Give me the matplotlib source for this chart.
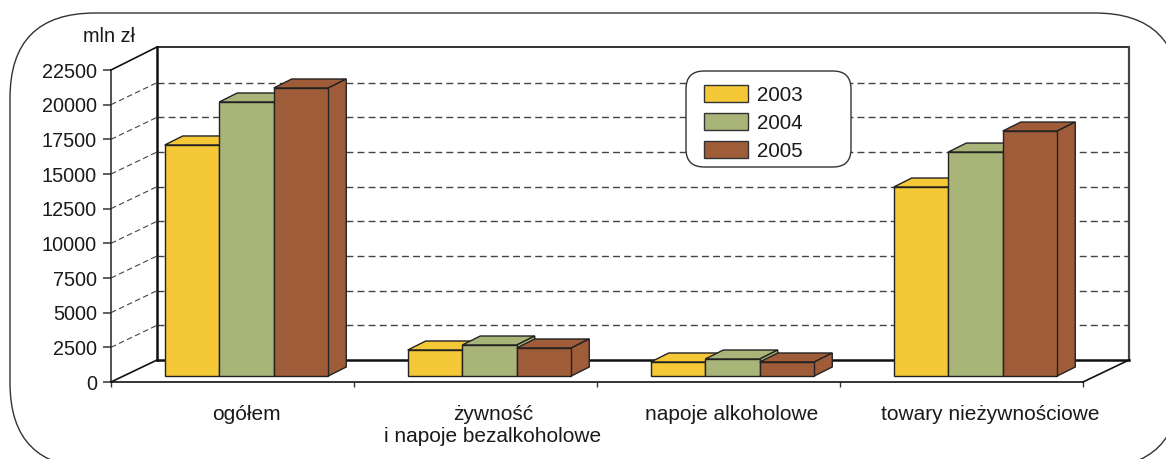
import numpy as np
import matplotlib
matplotlib.use("Agg")
from matplotlib import pyplot as plt
from matplotlib.patches import FancyBboxPatch, Polygon, Patch

plt.rcParams['font.family'] = ['Liberation Sans', 'DejaVu Sans']

# Data
categories = ["ogółem", "żywność\ni napoje bezalkoholowe", "napoje alkoholowe", "towary nieżywnościowe"]
years = ["2003", "2004", "2005"]
values_2003 = [16660, 1875, 1010, 13630]
values_2004 = [19760, 2235, 1225, 16150]
values_2005 = [20770, 2020, 1010, 17665]
y_ticks = [0, 2500, 5000, 7500, 10000, 12500, 15000, 17500, 20000, 22500]
colors = ["#F4C837", "#A9B479", "#9F5C38"]

W, H = 1166, 459
fig = plt.figure(figsize=(W / 100, H / 100), dpi=100)

# Overlay in pixels, only for the rounded frame
bg = fig.add_axes([0, 0, 1, 1])
bg.set_xlim(0, W)
bg.set_ylim(H, 0)
bg.axis("off")
bg.add_patch(FancyBboxPatch((10, 13), 1170, 455, boxstyle="round,pad=0,rounding_size=85",
                            fc="white", ec="#333333", lw=1.0))

# Main axes is the front plane of the box
ax = fig.add_axes([111 / W, (H - 382) / H, 972 / W, 312 / H])
ax.set_xlim(0, 4)
ax.set_ylim(0, 22500)
ax.patch.set_alpha(0)
for s in ax.spines.values():
    s.set_visible(False)

# pixel offsets turned into data units
ux = 4 / 972
uy = 22500 / 312
wall_x, wall_y = 46 * ux, 22 * uy
bar_x, bar_y = 14 * ux, 6 * uy
depth_x, depth_y = 18 * ux, 9 * uy
bar_w = 54.5 * ux

# Back wall, floor and side lines
ax.plot([wall_x, wall_x], [wall_y, 22500 + wall_y + uy], color="#111111", lw=1.8, clip_on=False)
ax.plot([wall_x, 4 + wall_x], [22500 + wall_y + uy] * 2, color="#222222", lw=1.3, clip_on=False)
ax.plot([4 + wall_x] * 2, [wall_y, 22500 + wall_y + uy], color="#444444", lw=1.6, clip_on=False)
ax.plot([wall_x, 4 + wall_x], [wall_y, wall_y], color="#111111", lw=1.8, clip_on=False)
ax.plot([0, 0], [0, 22500], color="#222222", lw=1.1, clip_on=False)
ax.plot([0, 4], [0, 0], color="#333333", lw=1.4, clip_on=False)
ax.plot([0, wall_x], [0, wall_y], color="#111111", lw=1.2, clip_on=False)
ax.plot([4, 4 + wall_x], [0, wall_y], color="#111111", lw=1.2, clip_on=False)
ax.plot([0, wall_x], [22500, 22500 + wall_y + uy], color="#111111", lw=1.2, clip_on=False)

# Gridlines on the wall and the dashed diagonals on the side
for v in y_ticks[1:-1]:
    ax.plot([wall_x, 4 + wall_x], [v + wall_y] * 2, color="#444444", lw=1.0,
            ls=(0, (5, 3)), clip_on=False, zorder=1)
    ax.plot([0, wall_x], [v, v + wall_y], color="#444444", lw=0.8,
            ls=(0, (5, 3)), clip_on=False, zorder=1)

# Bars: each one gets front, top and side faces
series = [values_2003, values_2004, values_2005]
z = 3
for c in range(len(categories)):
    for k, vals in enumerate(series):
        left = c + 0.5 + bar_x + (k - 1.5) * bar_w
        v = vals[c]
        top = v + bar_y
        right = left + bar_w
        ax.add_patch(Polygon([(left, top), (right, top), (right + depth_x, top + depth_y),
                              (left + depth_x, top + depth_y)], closed=True,
                             fc=colors[k], ec="#222222", lw=1.0, zorder=z, clip_on=False))
        ax.add_patch(Polygon([(right, bar_y), (right + depth_x, bar_y + depth_y),
                              (right + depth_x, top + depth_y), (right, top)], closed=True,
                             fc=colors[k], ec="#222222", lw=1.0, zorder=z, clip_on=False))
        ax.bar(left, v, width=bar_w, bottom=bar_y, align="edge", color=colors[k],
               edgecolor="#222222", linewidth=1.0, zorder=z, clip_on=False)
        z += 1

# Ticks and labels
ax.set_yticks(y_ticks, labels=[str(t) for t in y_ticks])
ax.tick_params(axis="y", length=5.8, width=1.1, color="#333333", pad=4.3, labelsize=14.3, labelcolor="#1a1a1a")
ax.set_xticks(range(5), labels=[""] * 5)
ax.tick_params(axis="x", which="major", length=3.6, width=1.0, color="#333333")
# the labels are not evenly placed under the groups in the original
label_shift = np.array([14, 17.5, 13, 29]) * ux
centers = np.arange(4) + 0.5 + label_shift
ax.set_xticks(centers, labels=categories, minor=True)
ax.tick_params(axis="x", which="minor", length=0, pad=16.4, labelsize=15, labelcolor="#1a1a1a")

ax.text(135, 36, "mln zł", transform=bg.transData, ha="right", va="center", fontsize=14.3, color="#1a1a1a")

# Legend, box drawn by hand because it is wider on the right than a legend frame allows
fig.add_artist(FancyBboxPatch((686, 71), 165, 96, boxstyle="round,pad=0,rounding_size=18",
                              transform=bg.transData, fc="white", ec="#333333", lw=1.0, zorder=4))
handles = [Patch(fc=colors[i], ec="#333333", lw=1.0, label=years[i]) for i in range(3)]
fig.legend(handles=handles, loc="upper left", bbox_to_anchor=(704 / W, 1 - 85 / H),
           borderaxespad=0, borderpad=0, fontsize=14.9, frameon=False,
           handlelength=2.13, handleheight=0.87, handletextpad=0.45, labelspacing=0.41,
           labelcolor="#1a1a1a")

fig.savefig("out.png", dpi=100)
